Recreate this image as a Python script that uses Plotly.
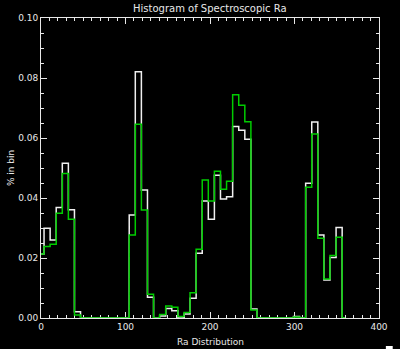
import plotly.graph_objects as go

# Bin positions (Ra, step plotted centred on each value)
bin_step = 7.2
n_bins = 51
ra_bins = [round(k * bin_step, 2) for k in range(n_bins)]

white_pct = [
    0.0213, 0.0299, 0.0260, 0.0368, 0.0516, 0.0361, 0.0021, 0, 0, 0,
    0, 0, 0, 0, 0, 0.0343, 0.0821, 0.0427, 0.0069, 0,
    0.0007, 0.0032, 0.0024, 0, 0.0013, 0.0066, 0.0216, 0.0390, 0.0329, 0.0476,
    0.0397, 0.0404, 0.0638, 0.0626, 0.0596, 0.0030, 0, 0, 0, 0,
    0, 0, 0.0005, 0, 0.0449, 0.0653, 0.0277, 0.0127, 0.0202, 0.0302,
    0,
]
green_pct = [
    0.0213, 0.0238, 0.0246, 0.0349, 0.0482, 0.0329, 0.0010, 0, 0, 0,
    0, 0, 0, 0, 0, 0.0277, 0.0646, 0.0360, 0.0079, 0,
    0.0012, 0.0040, 0.0036, 0.0005, 0.0018, 0.0084, 0.0229, 0.0460, 0.0390, 0.0489,
    0.0429, 0.0456, 0.0744, 0.0709, 0.0654, 0.0027, 0, 0, 0, 0,
    0, 0, 0.0003, 0, 0.0436, 0.0613, 0.0266, 0.0130, 0.0208, 0.0269,
    0,
]

x_ticks = [0, 100, 200, 300, 400]
y_ticks = [0.00, 0.02, 0.04, 0.06, 0.08, 0.10]

fg = "#e8e8e8"
font_family = "DejaVu Sans"

fig = go.Figure()
fig.add_trace(go.Scatter(x=ra_bins, y=white_pct, mode="lines",
                         line=dict(color="#f0f0f0", width=1.5, shape="hvh"),
                         cliponaxis=False, showlegend=False))
fig.add_trace(go.Scatter(x=ra_bins, y=green_pct, mode="lines",
                         line=dict(color="#00cc00", width=1.5, shape="hvh"),
                         cliponaxis=False, showlegend=False))

axis_common = dict(
    showline=True, linecolor=fg, linewidth=1, mirror="ticks",
    ticks="inside", tickcolor=fg, tickwidth=1, ticklen=6,
    showgrid=False, zeroline=False, layer="below traces",
    tickfont=dict(family=font_family, size=9, color=fg),
)

fig.update_xaxes(range=[0, 400], tickvals=x_ticks, ticktext=[str(v) for v in x_ticks],
                 minor=dict(ticks="inside", dtick=10, ticklen=3, tickcolor=fg, showgrid=False),
                 **axis_common)
fig.update_yaxes(range=[0, 0.10], tickvals=y_ticks, ticktext=[f"{v:.2f}" for v in y_ticks],
                 minor=dict(ticks="inside", dtick=0.005, ticklen=3, tickcolor=fg, showgrid=False),
                 **axis_common)

fig.update_layout(
    width=400, height=349,
    margin=dict(l=41, r=14, t=18, b=31),
    paper_bgcolor="black", plot_bgcolor="black",
    font=dict(family=font_family, color=fg),
    annotations=[
        dict(text="Histogram of Spectroscopic Ra", xref="paper", yref="paper",
             x=0.5, y=(318 - 9) / 300, xanchor="center", yanchor="middle",
             showarrow=False, font=dict(size=10, color=fg, family=font_family)),
        dict(text="Ra Distribution", xref="paper", yref="paper",
             x=0.5, y=(318 - 341.5) / 300, xanchor="center", yanchor="middle",
             showarrow=False, font=dict(size=9, color=fg, family=font_family)),
        dict(text="% in bin", xref="paper", yref="paper",
             x=(10.5 - 41) / 345, y=0.5, xanchor="center", yanchor="middle",
             textangle=-90, showarrow=False,
             font=dict(size=9, color=fg, family=font_family)),
    ],
    shapes=[
        dict(type="rect", xref="paper", yref="paper",
             x0=(393 - 41) / 345, x1=(400 - 41) / 345,
             y0=(318 - 349) / 300, y1=(318 - 346) / 300,
             fillcolor="white", line=dict(width=0)),
    ],
)

fig.write_html("out.html")
